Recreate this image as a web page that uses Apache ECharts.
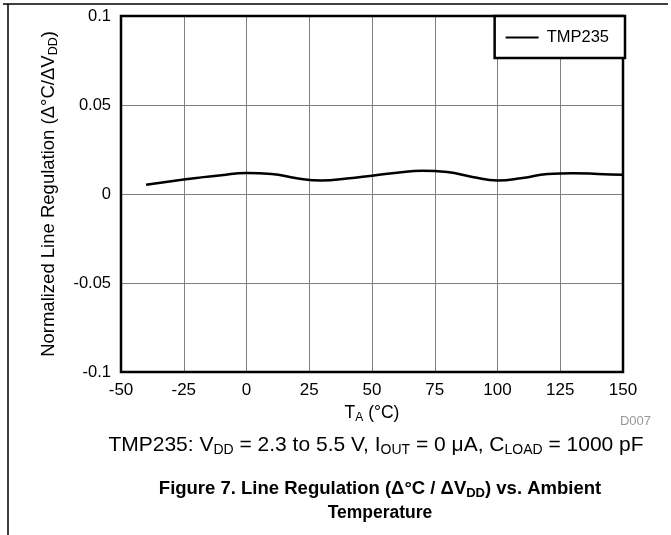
<!DOCTYPE html>
<html>
<head>
<meta charset="utf-8">
<script src="https://cdn.jsdelivr.net/npm/echarts@6/dist/echarts.min.js"></script>
<style>
html,body{margin:0;padding:0;background:#fff;}
#c{width:671px;height:535px;}
</style>
</head>
<body>
<div id="c"></div>
<script>
const temps = [-40, -30, -20, -10, 0, 10, 20, 30, 40, 50, 60, 70, 80, 90, 100, 110, 120, 130, 140, 150];
const tmp235 = [0.0052, 0.0072, 0.0090, 0.0106, 0.0118, 0.0113, 0.0088, 0.0076, 0.0087, 0.0103, 0.0120, 0.0131, 0.0123, 0.0096, 0.0076, 0.0090, 0.0112, 0.0116, 0.0113, 0.0108];
const xTicks = [-50, -25, 0, 25, 50, 75, 100, 125, 150];
const yTicks = [-0.1, -0.05, 0, 0.05, 0.1];

const FONT = 'Liberation Sans, Arial, sans-serif';
const chart = echarts.init(document.getElementById('c'), null, {renderer: 'canvas'});
chart.setOption({
  backgroundColor: '#fff',
  animation: false,
  textStyle: {fontFamily: FONT},
  grid: {left: 121, right: 48, top: 16, bottom: 163, show: true, borderColor: '#000', borderWidth: 2.5, z: 5},
  legend: {
    data: ['TMP235'], right: 46, top: 16, orient: 'vertical',
    backgroundColor: '#fff', borderColor: '#000', borderWidth: 2.5,
    padding: [13, 16, 12, 11], itemWidth: 33, itemHeight: 16, itemGap: 0,
    icon: 'path://M0,7L33,7L33,9L0,9Z',
    itemStyle: {color: '#000'},
    textStyle: {fontSize: 16.5, color: '#000', fontFamily: FONT, padding: [0, 0, 0, 3]}, z: 10
  },
  xAxis: {
    type: 'value', min: -50, max: 150, interval: 25,
    name: '{m|T}{s|A}{m| (°C)}', nameLocation: 'middle', nameGap: 29,
    nameTextStyle: {rich: {m: {fontSize: 17.5, color: '#000', fontFamily: FONT}, s: {fontSize: 12, color: '#000', fontFamily: FONT, verticalAlign: 'bottom', padding: [9, 0, 0, 0]}}},
    axisLine: {show: false}, axisTick: {show: false},
    axisLabel: {fontSize: 17, color: '#000', margin: 10, fontFamily: FONT, formatter: v => xTicks.includes(v) ? String(v) : ''},
    splitLine: {show: true, lineStyle: {color: '#808080', width: 1}}
  },
  yAxis: {
    type: 'value', min: -0.1, max: 0.1, interval: 0.05,
    name: '{m|Normalized Line Regulation (Δ°C/ΔV}{s|DD}{m|)}', nameLocation: 'middle', nameGap: 61, nameRotate: 90,
    nameTextStyle: {rich: {m: {fontSize: 18.5, color: '#000', fontFamily: FONT}, s: {fontSize: 12.5, color: '#000', fontFamily: FONT, verticalAlign: 'bottom', padding: [9, 0, 0, 0]}}},
    axisLine: {show: false}, axisTick: {show: false},
    axisLabel: {fontSize: 16.5, color: '#000', margin: 10, fontFamily: FONT,
      formatter: v => { const t = yTicks.find(y => Math.abs(y - v) < 1e-9); return t === undefined ? '' : String(t); }},
    splitLine: {show: true, lineStyle: {color: '#808080', width: 1}}
  },
  series: [{
    name: 'TMP235', type: 'line', smooth: 0.5, showSymbol: false,
    data: temps.map((t, i) => [t, tmp235[i]]),
    lineStyle: {color: '#000', width: 2.5}, itemStyle: {color: '#000'}, z: 3
  }],
  graphic: [
    {type: 'line', shape: {x1: 3, y1: 4, x2: 668, y2: 4}, style: {stroke: '#000', lineWidth: 1.5}},
    {type: 'line', shape: {x1: 8, y1: 4, x2: 8, y2: 535}, style: {stroke: '#000', lineWidth: 1.5}},
    {type: 'text', x: 651, y: 421, style: {text: 'D007', fontSize: 13, fill: '#999', fontFamily: FONT, textAlign: 'right', textVerticalAlign: 'middle'}},
    {type: 'text', x: 376, y: 445, style: {
      text: '{m|TMP235: V}{s|DD}{m| = 2.3 to 5.5 V, I}{s|OUT}{m| = 0 μA, C}{s|LOAD}{m| = 1000 pF}',
      textAlign: 'center', textVerticalAlign: 'middle',
      rich: {m: {fontSize: 21, fill: '#000', fontFamily: FONT}, s: {fontSize: 14, fill: '#000', fontFamily: FONT, verticalAlign: 'bottom', padding: [10, 0, 0, 0]}}}},
    {type: 'text', x: 380, y: 489, style: {
      text: '{m|Figure 7. Line Regulation (Δ°C / ΔV}{s|DD}{m|) vs. Ambient}',
      textAlign: 'center', textVerticalAlign: 'middle',
      rich: {m: {fontSize: 18.5, fontWeight: 'bold', fill: '#000', fontFamily: FONT}, s: {fontSize: 13, fontWeight: 'bold', fill: '#000', fontFamily: FONT, verticalAlign: 'bottom', padding: [9, 0, 0, 0]}}}},
    {type: 'text', x: 380, y: 513, style: {text: 'Temperature', fontSize: 17.5, fontWeight: 'bold', fill: '#000', fontFamily: FONT, textAlign: 'center', textVerticalAlign: 'middle'}}
  ]
});
</script>
</body>
</html>
